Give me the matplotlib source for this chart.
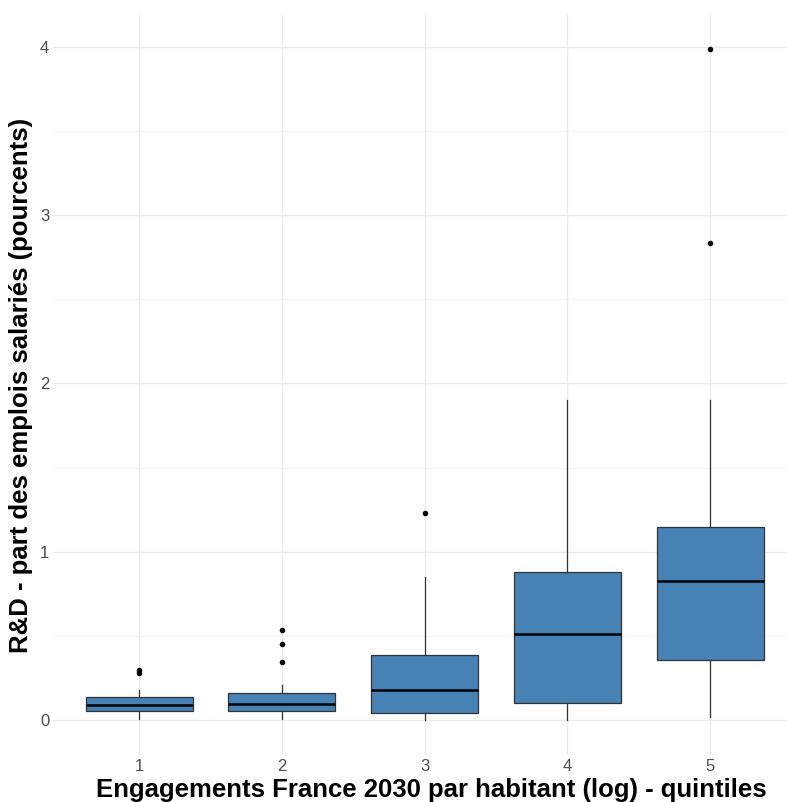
import matplotlib.pyplot as plt

# =========================
# Data
# =========================
quintiles = ["1", "2", "3", "4", "5"]
q1 = [0.053, 0.053, 0.040, 0.103, 0.357]
medians = [0.089, 0.093, 0.176, 0.509, 0.826]
q3 = [0.137, 0.162, 0.386, 0.878, 1.145]
whisker_low = [0.006, 0.005, 0.0, 0.0, 0.020]
whisker_high = [0.180, 0.206, 0.852, 1.902, 1.902]
outliers = [
    [0.297, 0.279],
    [0.535, 0.450, 0.347],
    [1.232],
    [],
    [3.990, 2.835],
]

# =========================
# Figure (panel runs a bit past the right edge, like the cropped original)
# =========================
W, H = 787, 802
left, right, top, bottom = 53.4, 795.7, 15, 755
fig = plt.figure(figsize=(W / 100, H / 100), dpi=100)
ax = fig.add_axes([left / W, 1 - bottom / H, (right - left) / W, (bottom - top) / H])

stats = []
for i in range(len(quintiles)):
    stats.append({
        "med": medians[i], "q1": q1[i], "q3": q3[i],
        "whislo": whisker_low[i], "whishi": whisker_high[i],
        "fliers": outliers[i], "label": quintiles[i],
    })

ax.bxp(
    stats,
    positions=range(1, len(quintiles) + 1),
    widths=0.75,
    patch_artist=True,
    showcaps=False,
    boxprops=dict(facecolor="#4682B4", edgecolor="#333333", linewidth=0.9),
    medianprops=dict(color="black", linewidth=1.8),
    whiskerprops=dict(color="#333333", linewidth=0.9),
    flierprops=dict(marker="o", markerfacecolor="black", markeredgecolor="black",
                    markersize=3),
    zorder=3,
)

# ggplot theme_minimal look
ax.set_xlim(0.4, 5.6)
ax.set_ylim(-0.208, 4.19)
ax.set_yticks([0, 1, 2, 3, 4])
ax.set_yticks([0.5, 1.5, 2.5, 3.5], minor=True)
for s in ax.spines.values():
    s.set_visible(False)
ax.grid(True, which="major", color="#EBEBEB", linewidth=1.0, zorder=0)
ax.grid(True, which="minor", axis="y", color="#F2F2F2", linewidth=0.6, zorder=0)
ax.set_axisbelow(True)
ax.tick_params(axis="both", which="both", length=0, labelsize=12,
               labelcolor="#4D4D4D", pad=3)
for lab in ax.get_xticklabels() + ax.get_yticklabels():
    lab.set_fontfamily("Liberation Sans")

ax.set_xlabel("Engagements France 2030 par habitant (log) - quintiles",
              fontsize=18.5, fontweight="bold", family="Liberation Sans")
ax.xaxis.set_label_coords((431 - left) / (right - left), -0.031, transform=ax.transAxes)
ax.xaxis.label.set_va("top")
ax.set_ylabel("R&D - part des emplois salariés (pourcents)",
              fontsize=18.5, fontweight="bold", family="Liberation Sans", labelpad=5)

plt.savefig("out.png", dpi=100)
plt.close()
